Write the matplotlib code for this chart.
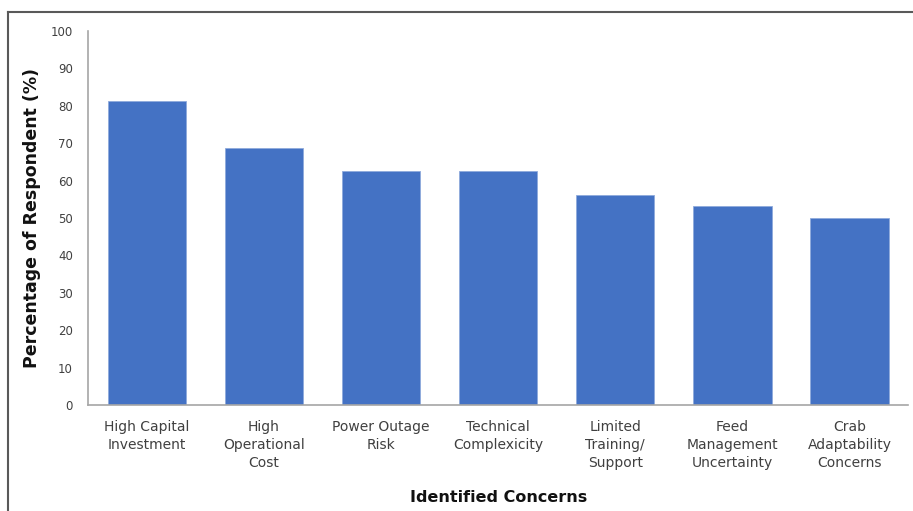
import matplotlib
matplotlib.use("Agg")
import matplotlib.pyplot as plt
from matplotlib.lines import Line2D

categories = ["High Capital\nInvestment", "High\nOperational\nCost", "Power Outage\nRisk",
              "Technical\nComplexicity", "Limited\nTraining/\nSupport",
              "Feed\nManagement\nUncertainty", "Crab\nAdaptability\nConcerns"]
values = [81.25, 68.75, 62.5, 62.5, 56.25, 53.1, 50.0]
yticks = [0, 10, 20, 30, 40, 50, 60, 70, 80, 90, 100]

plt.rcParams['font.family'] = ['DejaVu Sans']
fig = plt.figure(figsize=(9.13, 5.11), dpi=100)
ax = fig.add_axes([0.0967, 0.2074, 0.8978, 0.7319])

x = list(range(len(categories)))
ax.bar(x, values, width=0.67, color="#4472C4", edgecolor="#8FAADC", linewidth=0.6)
ax.set_xlim(-0.5, len(categories) - 0.5)
ax.set_ylim(0, 100)
ax.set_yticks(yticks)
ax.set_xticks(x)
ax.set_xticklabels(categories, fontsize=10, color="#404040", linespacing=1.35)
ax.tick_params(axis='y', labelsize=8.5, colors="#404040", length=0, pad=11)
ax.tick_params(axis='x', length=0, pad=11)
for s in ['top', 'right']:
    ax.spines[s].set_visible(False)
for s in ['left', 'bottom']:
    ax.spines[s].set_color("#A6A6A6")
    ax.spines[s].set_linewidth(1.2)

ax.set_ylabel("Percentage of Respondent (%)", fontsize=12.5, fontweight='bold', color="#111111")
ax.yaxis.set_label_coords(-0.058, 0.5)
ax.set_xlabel("Identified Concerns", fontsize=11.5, fontweight='bold', color="#111111")
ax.xaxis.set_label_coords(0.5, -0.228)

fig.add_artist(Line2D([8/913, 1.0], [1 - 12/511, 1 - 12/511], color="#595959", lw=1.5, transform=fig.transFigure))
fig.add_artist(Line2D([8/913, 8/913], [0, 1 - 12/511], color="#595959", lw=1.5, transform=fig.transFigure))

fig.savefig("out.png", dpi=100)
